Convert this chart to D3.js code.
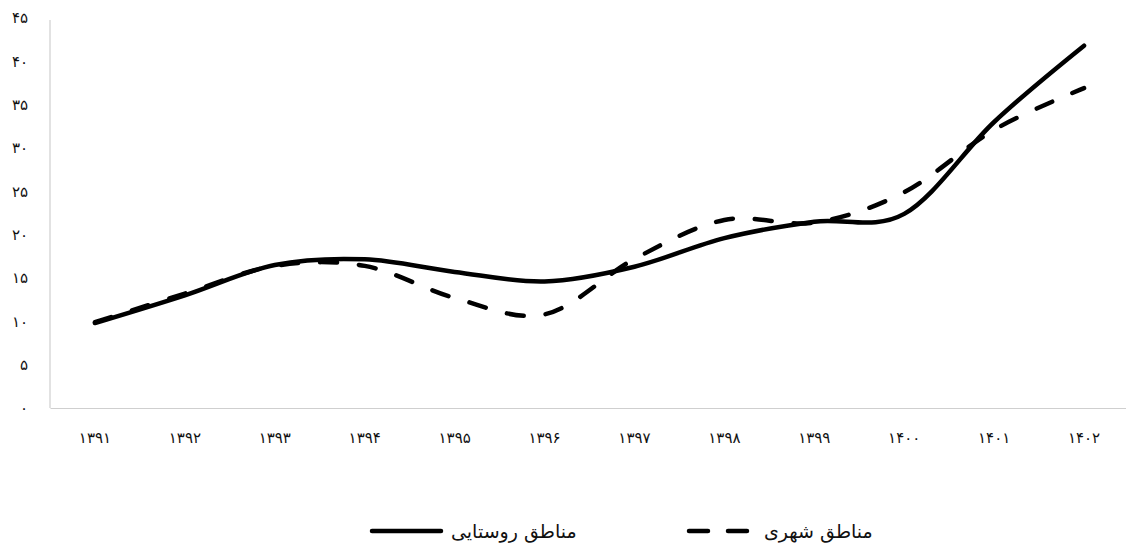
<!DOCTYPE html>
<html lang="fa">
<head>
<meta charset="utf-8">
<script src="https://cdn.jsdelivr.net/npm/d3@7"></script>
<style>
  html, body { margin: 0; padding: 0; background: #fff; }
  svg { display: block; font-family: "DejaVu Sans", sans-serif; }
</style>
</head>
<body>
<svg id="chart" width="1126" height="550"></svg>
<script>
// Years (Solar Hijri), tick labels in Persian digits
const years = ["۱۳۹۱", "۱۳۹۲", "۱۳۹۳", "۱۳۹۴", "۱۳۹۵", "۱۳۹۶", "۱۳۹۷", "۱۳۹۸", "۱۳۹۹", "۱۴۰۰", "۱۴۰۱", "۱۴۰۲"];
const yTicks = [0, 5, 10, 15, 20, 25, 30, 35, 40, 45];

// Values
const rural = [9.8, 13.0, 16.5, 17.15, 15.7, 14.6, 16.3, 19.6, 21.5, 22.4, 33.0, 41.8];
const urban = [9.9, 13.2, 16.4, 16.4, 12.7, 10.8, 17.2, 21.7, 21.4, 24.9, 32.1, 36.9];

const seriesNames = ["مناطق روستایی", "مناطق شهری"];

const faDigits = "۰۱۲۳۴۵۶۷۸۹";
const toFa = n => String(n).replace(/\d/g, d => faDigits[+d]);

const svg = d3.select("#chart");
const margin = { top: 18, left: 50, bottom: 408, right: 1129 };

const x = d3.scaleBand().domain(years).range([margin.left, margin.right]);
const y = d3.scaleLinear().domain([0, 45]).range([margin.bottom, margin.top]);

// Axes (light gray, no tick marks)
const xAxis = svg
  .append("g")
  .attr("transform", `translate(0,${margin.bottom})`)
  .call(d3.axisBottom(x).tickSize(0).tickPadding(24));

const yAxis = svg
  .append("g")
  .attr("transform", `translate(${margin.left},0)`)
  .call(d3.axisLeft(y).tickValues(yTicks).tickFormat(toFa).tickSize(0).tickPadding(22));

[xAxis, yAxis].forEach(g => {
  g.select(".domain").attr("stroke", "#cfcfcf").attr("stroke-width", 1.2);
  g.selectAll("text")
    .attr("fill", "#111")
    .attr("font-size", 15)
    .attr("font-family", "DejaVu Sans, sans-serif");
});
yAxis.select(".domain").attr("d", `M0,${y(45) + 2}V${margin.bottom}`);

// Lines
const line = d3
  .line()
  .x((d, i) => x(years[i]) + x.bandwidth() / 2)
  .y(d => y(d))
  .curve(d3.curveCardinal.tension(0));

svg
  .append("path")
  .datum(urban)
  .attr("fill", "none")
  .attr("stroke", "#000")
  .attr("stroke-width", 4.5)
  .attr("stroke-linecap", "round")
  .attr("stroke-dasharray", "17,22")
  .attr("d", line);

svg
  .append("path")
  .datum(rural)
  .attr("fill", "none")
  .attr("stroke", "#000")
  .attr("stroke-width", 4.5)
  .attr("stroke-linecap", "round")
  .attr("d", line);

// Legend
const legend = [
  { name: seriesNames[0], dash: null, x1: 372, x2: 441, tx: 451 },
  { name: seriesNames[1], dash: "19,20", x1: 689, x2: 752, tx: 764 }
];

legend.forEach(item => {
  svg
    .append("line")
    .attr("x1", item.x1)
    .attr("x2", item.x2)
    .attr("y1", 531)
    .attr("y2", 531)
    .attr("stroke", "#000")
    .attr("stroke-width", 4.5)
    .attr("stroke-linecap", "round")
    .attr("stroke-dasharray", item.dash);

  svg
    .append("text")
    .attr("x", item.tx)
    .attr("y", 538)
    .attr("fill", "#111")
    .attr("font-size", 19)
    .attr("text-anchor", "start")
    .text(item.name);
});
</script>
</body>
</html>
